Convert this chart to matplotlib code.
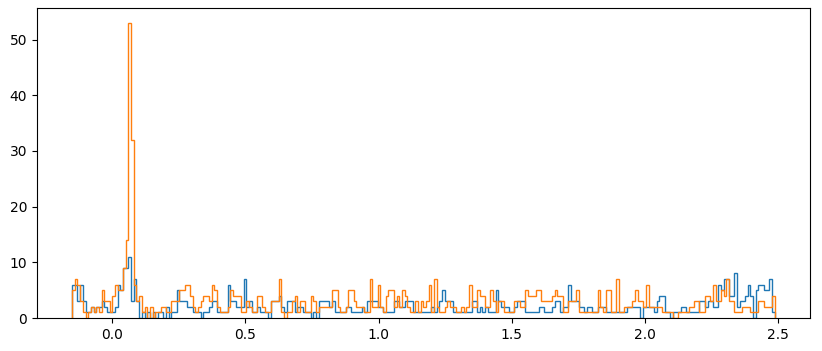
import numpy as np
import matplotlib
matplotlib.use("Agg")
import matplotlib.pyplot as plt

bin_start = -0.15
bin_width = 0.01006

blue_counts = [
    6,6,3,6,3,1,1,2,1,2,
    2,3,2,1,1,1,2,6,5,9,
    9,11,3,7,3,0,1,0,1,0,
    1,0,1,1,0,2,0,1,1,5,
    3,3,3,2,2,1,1,1,0,1,
    1,2,3,3,1,1,1,1,6,3,
    3,2,2,2,7,2,3,1,1,2,
    1,1,1,0,3,3,3,4,2,1,
    3,3,3,1,2,
    2,1,1,1,0,1,0,3,3,3,
    3,2,3,1,1,1,1,2,2,1,
    1,1,1,2,1,3,3,3,3,2,
    2,1,1,1,1,3,3,2,2,3,
    3,3,1,1,1,
    1,1,1,1,2,1,2,3,5,3,
    3,3,1,1,1,1,1,1,1,3,
    3,1,2,1,2,1,1,1,5,3,
    2,2,2,1,1,2,3,3,3,1,
    1,1,1,1,
    2,2,1,1,1,2,3,3,1,2,
    2,6,3,3,3,2,2,1,2,2,
    1,1,2,2,2,1,1,1,1,1,
    1,1,1,2,2,2,2,2,0,2,
    2,2,2,1,3,
    4,4,1,1,0,1,1,1,2,2,
    1,1,1,1,1,3,3,2,3,3,
    2,2,6,5,7,7,4,4,8,2,
    3,3,4,6,4,0,5,6,6,5,
    5,7,1,
]

orange_counts = [
    5,7,6,3,1,0,1,2,1,2,
    1,5,3,3,1,4,6,5,5,9,
    14,53,32,6,3,4,1,2,0,2,
    0,1,1,2,2,1,1,3,3,3,
    5,5,6,6,4,2,1,2,3,4,
    4,3,6,5,2,1,1,1,2,5,
    4,4,4,1,1,3,2,1,1,4,
    4,2,1,1,3,3,3,7,1,0,
    1,1,3,4,1,
    3,3,1,1,4,3,1,2,2,2,
    2,2,5,5,2,1,1,2,5,5,
    3,2,2,2,1,1,7,2,2,6,
    2,1,4,5,5,2,4,2,5,4,
    2,1,1,3,1,
    3,2,3,6,1,7,2,1,1,2,
    3,2,2,1,1,2,1,2,6,2,
    2,5,4,4,2,2,5,3,1,3,
    3,1,1,1,1,3,3,2,2,5,
    4,4,4,5,
    5,3,3,3,3,4,5,4,4,1,
    1,3,3,3,5,1,1,1,1,1,
    1,1,5,2,1,5,5,1,1,7,
    1,1,2,2,2,3,5,3,3,2,
    6,2,2,2,2,
    2,1,1,1,1,0,0,1,1,1,
    1,2,2,3,3,1,1,4,4,3,
    6,3,3,5,4,7,3,3,1,1,
    1,2,2,2,1,1,1,3,3,2,
    2,2,4,
]

n = min(len(blue_counts), len(orange_counts))
blue = np.array(blue_counts[:n], dtype=float)
orange = np.array(orange_counts[:n], dtype=float)
edges = bin_start + bin_width * np.arange(n + 1)
centers = 0.5 * (edges[:-1] + edges[1:])

fig = plt.figure(figsize=(8.22, 3.51), dpi=100)
ax = fig.add_axes([0.045, 0.094, 0.94, 0.883])
ax.hist(centers, bins=edges, weights=blue, histtype='step', color='C0')
ax.hist(centers, bins=edges, weights=orange, histtype='step', color='C1')
ax.set_xticks([0.0, 0.5, 1.0, 1.5, 2.0, 2.5])
fig.savefig("out.png", dpi=100)
